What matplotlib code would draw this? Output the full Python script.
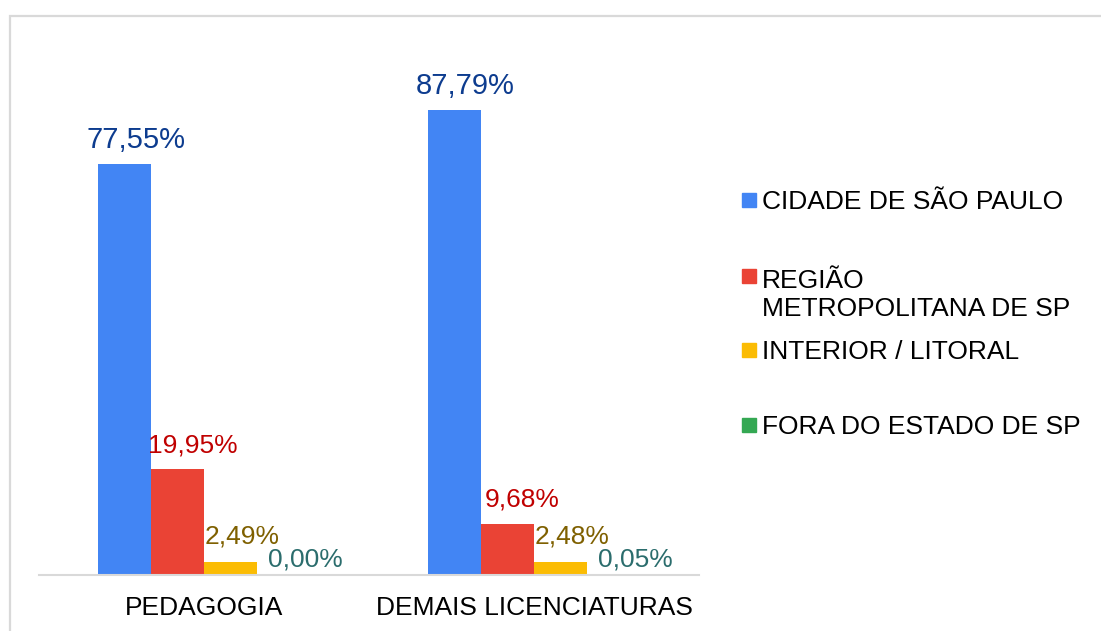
import numpy as np
import matplotlib.pyplot as plt
from matplotlib.patches import Rectangle

plt.rcParams['font.family'] = ['Liberation Sans', 'DejaVu Sans']

categories = ['PEDAGOGIA', 'DEMAIS LICENCIATURAS']
series_names = ['CIDADE DE SÃO PAULO', 'REGIÃO\nMETROPOLITANA DE SP',
                'INTERIOR / LITORAL', 'FORA DO ESTADO DE SP']
values = [
    [77.55, 87.79],   # cidade de sao paulo
    [19.95, 9.68],    # regiao metropolitana
    [2.49, 2.48],     # interior / litoral
    [0.00, 0.05],     # fora do estado
]

bar_colors = ['#4285f4', '#ea4335', '#fbbc04', '#34a853']
label_colors = ['#0d3c8f', '#c00000', '#7f6000', '#2b6d6d']
label_sizes = [21, 19, 19, 19]
# label offsets in pixels (dx, dy) from the bar top centre
label_offsets = [(11, 16), (15, 17), (12, 18), (22, 8)]

W, H = 1101, 631
fig = plt.figure(figsize=(W / 100, H / 100), dpi=100)

# axes placed by pixel
ax_left, ax_right, ax_bottom, ax_top = 39, 699, 575, 40
ax = fig.add_axes([ax_left / W, (H - ax_bottom) / H,
                   (ax_right - ax_left) / W, (ax_bottom - ax_top) / H])

x = np.arange(len(categories))
w = 0.1606
for i, vals in enumerate(values):
    xs = x + (i - 1.5) * w
    ax.bar(xs, vals, width=w, color=bar_colors[i], align='center')
    dx, dy = label_offsets[i]
    for xi, v in zip(xs, vals):
        ax.annotate(f'{v:.2f}%'.replace('.', ','), (xi, v),
                    xytext=(dx, dy), textcoords='offset pixels',
                    ha='center', va='baseline', color=label_colors[i],
                    fontsize=label_sizes[i])

ax.set_xlim(-0.5, 1.5)
ax.set_ylim(0, (ax_bottom - ax_top) / 5.3)
ax.set_xticks(x)
ax.set_xticklabels(categories, fontsize=19)
ax.tick_params(axis='x', length=0, pad=15)
ax.set_yticks([])
for s in ['top', 'right', 'left']:
    ax.spines[s].set_visible(False)
ax.spines['bottom'].set_color('#d9d9d9')
ax.spines['bottom'].set_linewidth(1.5)

# legend drawn by hand so the marker sits on the first line
marker_y = [200, 276, 350, 425]
line_gap = 31
for i, name in enumerate(series_names):
    my = marker_y[i]
    n_extra = name.count('\n')
    fig.patches.append(Rectangle((742 / W, (H - my - 7) / H), 14 / W, 14 / H,
                                 transform=fig.transFigure,
                                 color=bar_colors[i]))
    # baseline of the last line
    base = my + 9 + n_extra * line_gap
    fig.text(762 / W, (H - base) / H, name, fontsize=19, color='black',
             va='baseline', ha='left', linespacing=1.19)

# light border round the chart area
fig.patches.append(Rectangle((9.5 / W, -0.1), 2, (H - 16) / H + 0.1,
                             transform=fig.transFigure, fill=False,
                             edgecolor='#d9d9d9', linewidth=1.6))

fig.savefig('out.png', dpi=100)
